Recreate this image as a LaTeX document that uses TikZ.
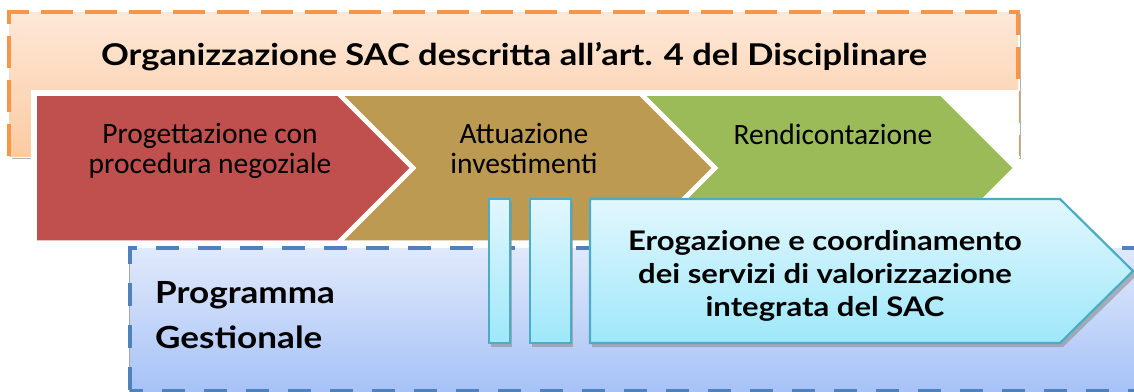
\documentclass[tikz,border=0pt]{standalone}
\usepackage{fontspec}
\newfontfamily\boldf{Lato}[UprightFont=* Bold, FakeStretch=1.15]
\newfontfamily\calf{Carlito}
\definecolor{orangeline}{HTML}{F79646}
\definecolor{orangetop}{HTML}{FDE8D8}
\definecolor{orangebot}{HTML}{FCCBA2}
\definecolor{redc}{HTML}{C0504D}
\definecolor{brownc}{HTML}{BC9A52}
\definecolor{greenc}{HTML}{9BBB59}
\definecolor{blueline}{HTML}{4F81BD}
\definecolor{bluetop}{HTML}{E1E9FB}
\definecolor{bluebot}{HTML}{A6C2F7}
\definecolor{cyanline}{HTML}{4BACC6}
\definecolor{cyantop}{HTML}{E2F7FD}
\definecolor{cyanbot}{HTML}{9EE8FA}
\tikzset{
  chev/.style={draw=white, line width=3.5pt, line join=miter},
  cyanbox/.style={draw=cyanline, line width=2.2pt, top color=cyantop, bottom color=cyanbot},
  shadowbox/.style={fill=black!45, opacity=0.6},
  chevtext/.style={font=\calf\fontsize{29.5}{30}\selectfont, text=black, align=center, inner sep=0pt},
  boldtext/.style={font=\boldf\fontsize{27}{33}\selectfont, text=black, align=center, inner sep=0pt},
}
\begin{document}
\begin{tikzpicture}[x=1pt,y=-1pt]
\useasboundingbox (0,0) rectangle (1134,391);
\clip (0,0) rectangle (1134,391);
% orange frame
\draw[black!30, line width=1pt] (1020,14) -- (1020,158) -- (12,158);
\shade[top color=orangetop, bottom color=orangebot] (9,12) rectangle (1018,156);
\draw[orangeline, line width=4pt, dash pattern=on 32pt off 12pt] (9,156) -- (9,12) -- (1018,12) -- (1018,156);
\node[font=\boldf\fontsize{30}{34}\selectfont, anchor=base, inner sep=0pt] (title) at (514,65) {Organizzazione SAC descritta all’art. 4 del Disciplinare};
% chevrons
\fill[white] (31,90) rectangle (1019,246);
\draw[chev, fill=redc] (35,94) -- (338,94) -- (412,168) -- (338,242) -- (35,242) -- cycle;
\draw[chev, fill=brownc] (340,94) -- (640,94) -- (714,168) -- (640,242) -- (340,242) -- (414,168) -- cycle;
\draw[chev, fill=greenc] (642,94) -- (941,94) -- (1015,168) -- (941,242) -- (642,242) -- (716,168) -- cycle;
\node[chevtext, anchor=base] (prog) at (210,173) {Progettazione con\\procedura negoziale};
\node[chevtext, anchor=base] (attu) at (524,173) {Attuazione\\investimenti};
\node[chevtext, anchor=base] (rend) at (833,144) {Rendicontazione};
% blue frame
\draw[black!35, line width=1pt] (129,250) -- (129,395);
\shade[top color=bluetop, bottom color=bluebot] (130,248) rectangle (1140,392);
\draw[blueline, line width=4pt, dash pattern=on 23pt off 19pt, dash phase=-2pt] (130,392) -- (130,248) -- (1140,248);
\draw[blueline, line width=4pt, dash pattern=on 23pt off 19pt, dash phase=10pt] (130,391) -- (1140,391);
\node[boldtext, font=\boldf\fontsize{30.5}{34}\selectfont, anchor=base west, align=left] (pg1) at (155,303) {Programma};
\node[boldtext, font=\boldf\fontsize{30.5}{34}\selectfont, anchor=base west, align=left] (pg2) at (155,348) {Gestionale};
% cyan bars and arrow
\fill[shadowbox] (491,202) rectangle (512,347);
\fill[shadowbox] (532,202) rectangle (573,347);
\fill[shadowbox] (592,202) -- (1063,202) -- (1137,275) -- (1063,347) -- (592,347) -- cycle;
\draw[cyanbox] (489,199) rectangle (510,343);
\draw[cyanbox] (530,199) rectangle (571,343);
\draw[cyanbox] (590,199) -- (1060,199) -- (1133,271) -- (1060,343) -- (590,343) -- cycle;
\node[boldtext, anchor=base] (erog) at (825,316) {Erogazione e coordinamento\\dei servizi di valorizzazione\\integrata del SAC};
\end{tikzpicture}
\end{document}
